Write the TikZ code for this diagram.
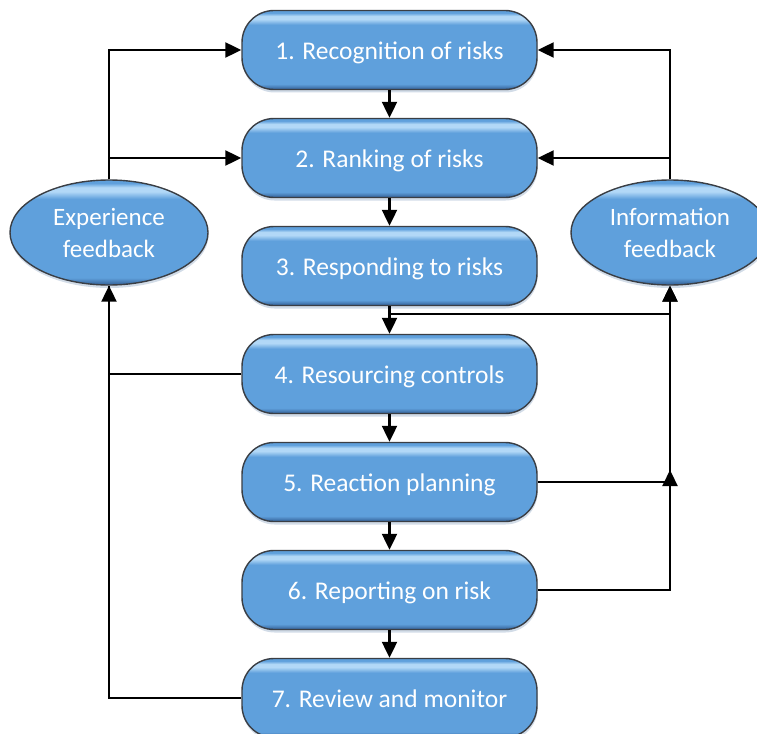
\documentclass[tikz,border=0pt]{standalone}
\usepackage{fontspec}
\setmainfont{Carlito}
\usetikzlibrary{shapes.geometric,arrows.meta,shadows,calc}

\definecolor{bvbase}{RGB}{95,160,220}
\definecolor{bvhi}{RGB}{178,216,247}
\definecolor{bvdark}{RGB}{50,94,148}
\definecolor{bvrim}{RGB}{58,62,68}

% bevelled blue fill: dark lower rim, light streak near the top
\pgfdeclareverticalshading{bevel}{100bp}{%
  color(0bp)=(bvdark); color(25bp)=(bvdark); color(28.5bp)=(bvbase);
  color(66bp)=(bvbase); color(69.5bp)=(bvhi); color(71.5bp)=(bvhi);
  color(73.5bp)=(bvbase); color(100bp)=(bvbase)}

\tikzset{
  bevelfill/.style={shading=bevel, draw=bvrim, line width=1.4pt,
    drop shadow={shadow xshift=0.5pt, shadow yshift=-3pt, opacity=0.22, fill=bvdark}},
  stepbox/.style={bevelfill, rectangle, rounded corners=32pt,
    minimum width=295pt, minimum height=79pt, inner sep=0pt,
    text height=22pt, text depth=2.6pt,
    text=white, font=\fontsize{25.5}{32}\selectfont},
  loopnode/.style={bevelfill, ellipse, minimum width=198pt, minimum height=105pt,
    inner sep=0pt, align=center, text=white, font=\fontsize{25}{32}\selectfont},
  link/.style={line width=2.2pt, black},
  arr/.style={link, -{Triangle[length=16pt,width=15pt]}},
}

\begin{document}
\begin{tikzpicture}[x=1pt,y=-1pt]
\useasboundingbox (0,0) rectangle (757,733);
\clip (0,0) rectangle (757,733);

% process steps
\node[stepbox] (b1) at (389.5,50)  {1. Recognition of risks};
\node[stepbox] (b2) at (389.5,158) {2. Ranking of risks};
\node[stepbox] (b3) at (389.5,266) {3. Responding to risks};
\node[stepbox] (b4) at (389.5,374) {4. Resourcing controls};
\node[stepbox] (b5) at (389.5,482) {5. Reaction planning};
\node[stepbox] (b6) at (389.5,590) {6. Reporting on risk};
\node[stepbox] (b7) at (389.5,698) {7. Review and monitor};

% feedback loops
\node[loopnode] (exp)  at (109,232.5) {Experience\\feedback};
\node[loopnode] (info) at (670,232.5) {Information\\feedback};

% main sequence
\draw[arr] (b1) -- (b2);
\draw[arr] (b2) -- (b3);
\draw[arr] (b3) -- (b4);
\draw[arr] (b4) -- (b5);
\draw[arr] (b5) -- (b6);
\draw[arr] (b6) -- (b7);

% experience feedback loop
\draw[arr] (exp.north) |- (b1.west);
\draw[arr] (exp.north) |- (b2.west);
\draw[arr] (b7.west) -| (exp.south);
\draw[link] (b4.west) -| (exp.south);

% information feedback loop
\draw[arr] (info.north) |- (b1.east);
\draw[arr] (info.north) |- (b2.east);
\coordinate (j3) at ($(b3.south)+(0,8)$);
\draw[arr] (j3) -| (info.south);
\draw[arr] (b5.east) -| (info.south);
\coordinate (j5) at ($(info.south |- b5.east)+(0,-12)$);
\draw[arr] (b6.east) -| (j5);
\end{tikzpicture}
\end{document}
